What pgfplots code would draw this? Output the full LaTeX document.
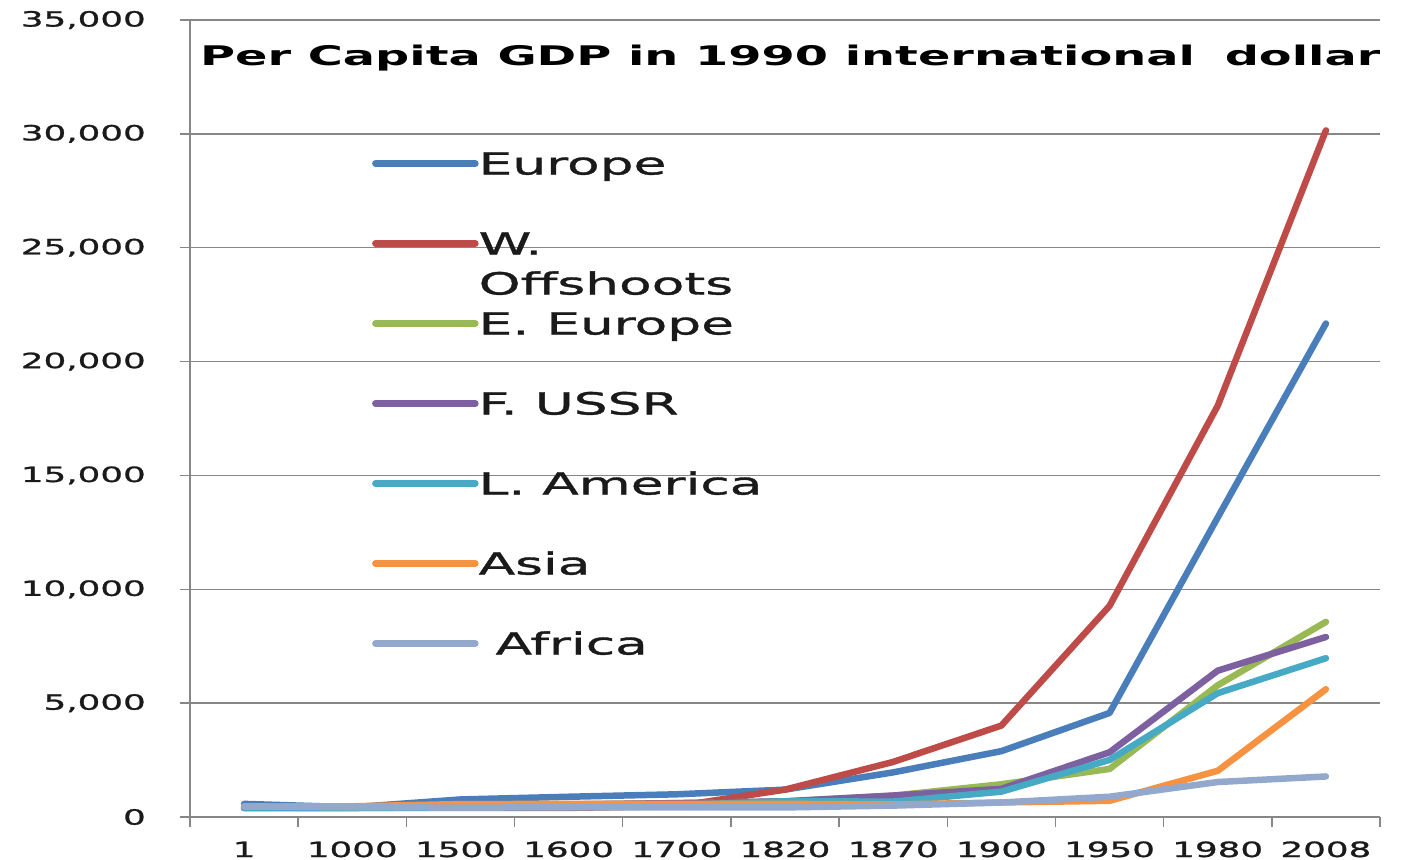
\documentclass[border=0pt]{standalone}
\usepackage{fontspec}
\setmainfont{DejaVu Sans}[FakeStretch=1.7, FakeBold=1.2]
\newfontfamily\titlefont{DejaVu Sans Bold}[FakeStretch=1.77]
\newfontfamily\legfont{DejaVu Sans}[FakeStretch=1.75, FakeBold=1.2]
\usepackage{pgfplots}
\usepackage{pgfplotstable}
\pgfplotsset{compat=1.18}
\definecolor{axisgray}{HTML}{878787}
\definecolor{cEur}{HTML}{4A7EBB}
\definecolor{cWO}{HTML}{BE4B48}
\definecolor{cEE}{HTML}{98B954}
\definecolor{cSU}{HTML}{7D60A0}
\definecolor{cLA}{HTML}{46AAC5}
\definecolor{cAs}{HTML}{F69240}
\definecolor{cAf}{HTML}{92A8CD}
\definecolor{txt}{HTML}{1A1A1A}
\pgfplotstableread{
x Europe WOff EEur USSR LAm Asia Africa
0 576 400 400 400 400 456 472
1 427 400 400 400 400 470 425
2 771 400 496 499 416 568 414
3 889 400 548 552 438 574 422
4 997 476 606 610 527 572 421
5 1202 1202 683 688 691 577 420
6 1960 2419 937 943 676 550 500
7 2892 4015 1438 1237 1113 638 637
8 4569 9268 2111 2841 2505 712 890
9 13154 18060 5786 6426 5438 2029 1536
10 21672 30152 8569 7904 6973 5611 1780
}\gdp
\begin{document}
\begin{tikzpicture}
\useasboundingbox (-190bp,-43bp) rectangle (1218bp,817bp);
\begin{axis}[
  at={(0,0)}, anchor=south west, scale only axis,
  width=1190bp, height=797bp,
  xmin=-0.5, xmax=10.5, ymin=0, ymax=35000,
  axis lines*=left,
  axis line style={draw=axisgray, line width=1.5bp},
  tick align=outside, major tick length=10bp,
  tick style={draw=axisgray, line width=1.5bp},
  xtick={-0.5,0.5,...,10.5}, xticklabels={},
  extra x ticks={0,1,2,3,4,5,6,7,8,9,10},
  extra x tick labels={1,1000,1500,1600,1700,1820,1870,1900,1950,1980,2008},
  extra x tick style={major tick length=0pt},
  ytick={0,5000,...,35000},
  scaled y ticks=false,
  /pgf/number format/.cd, 1000 sep={,}, assume math mode=true, /pgfplots/.cd,
  ymajorgrids, grid style={draw=axisgray, line width=1.3bp},
  ticklabel style={font=\fontsize{21bp}{25bp}\selectfont, text=txt},
  yticklabel style={anchor=east, inner sep=0pt, xshift=-34bp},
  xticklabel style={anchor=base, inner sep=0pt, yshift=-40bp},
  every axis plot/.append style={line width=6.5bp, line join=round, line cap=round},
  legend style={at={(axis description cs:0.1529,0.834)}, anchor=north west,
    draw=none, fill=none, inner sep=0pt, row sep=0pt,
    font=\legfont\fontsize{30.5bp}{40bp}\selectfont,
    nodes={inner sep=0pt, text height=22bp, text depth=58bp, anchor=base west, text=txt}},
  legend cell align=left,
  legend image code/.code={\draw[#1, line width=5.5bp, line cap=round] (3bp,11bp) -- (95bp,11bp); \path (0bp,11bp) -- (100bp,11bp);},
]
\addplot[cEur] table[x=x,y=Europe] {\gdp};
\addplot[cWO] table[x=x,y=WOff] {\gdp};
\addplot[cEE] table[x=x,y=EEur] {\gdp};
\addplot[cSU] table[x=x,y=USSR] {\gdp};
\addplot[cLA] table[x=x,y=LAm] {\gdp};
\addplot[cAs] table[x=x,y=Asia] {\gdp};
\addplot[cAf] table[x=x,y=Africa] {\gdp};
\legend{Europe,{\begin{tabular}[t]{@{}l@{}}W.\\[0bp]Offshoots\end{tabular}},E. Europe,F. USSR,L. America,Asia,\ Africa}
\node[anchor=base west, inner sep=0pt, font=\titlefont\fontsize{27bp}{30bp}\selectfont, text=black]
  at (axis description cs:0.0084,0.9423) {Per Capita GDP in 1990 international\hspace{1.1em}dollar};
\end{axis}
\end{tikzpicture}
\end{document}
